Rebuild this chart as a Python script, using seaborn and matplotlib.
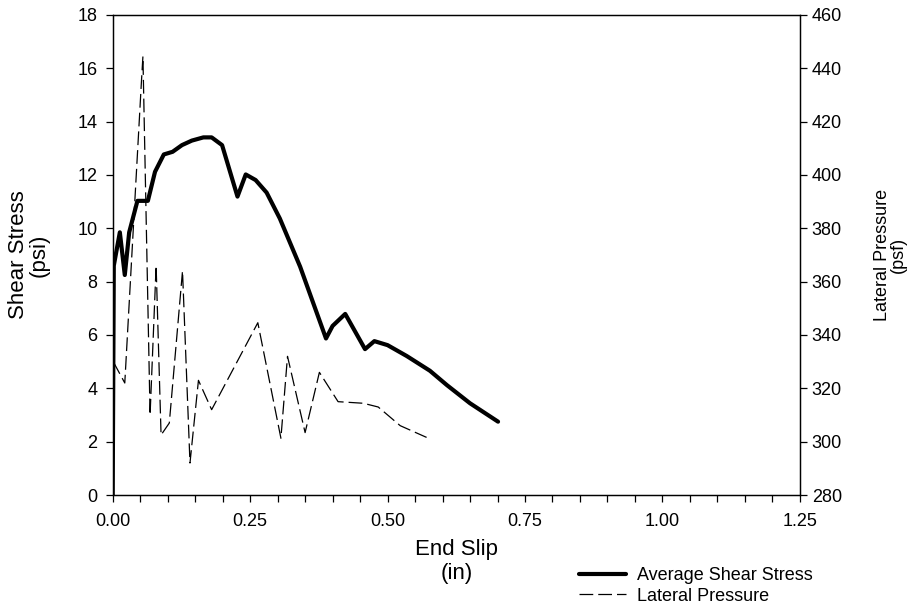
import matplotlib
matplotlib.use("Agg")
import matplotlib.pyplot as plt
import seaborn as sns
import pandas as pd
from matplotlib.ticker import MultipleLocator, FormatStrFormatter
from matplotlib.lines import Line2D

# ---- data ----
shear_x = [0.0, 0.002, 0.013, 0.022, 0.030, 0.045, 0.064, 0.077, 0.093, 0.109,
           0.126, 0.144, 0.165, 0.180, 0.199, 0.227, 0.242, 0.260, 0.280, 0.304,
           0.341, 0.388, 0.400, 0.423, 0.459, 0.476, 0.500, 0.535, 0.577, 0.608,
           0.650, 0.701]
shear_y = [0.0, 8.6, 9.85, 8.25, 9.85, 11.03, 11.03, 12.12, 12.77, 12.87,
           13.12, 13.29, 13.41, 13.41, 13.12, 11.19, 12.02, 11.81, 11.34, 10.37,
           8.56, 5.87, 6.34, 6.79, 5.47, 5.77, 5.62, 5.21, 4.66, 4.12,
           3.44, 2.75]

lat_x = [0.001, 0.022, 0.052, 0.055, 0.068, 0.079, 0.088, 0.103, 0.127, 0.1406,
         0.156, 0.180, 0.264, 0.306, 0.318, 0.350, 0.376, 0.410, 0.456, 0.483,
         0.523, 0.571]
lat_y = [330.0, 322.0, 434.0, 444.5, 310.0, 366.0, 302.5, 307.0, 364.0, 292.0,
         323.0, 312.0, 344.6, 301.3, 332.0, 303.4, 326.0, 315.0, 314.4, 313.0,
         306.0, 301.6]

series_names = ["Average Shear Stress", "Lateral Pressure"]

sns.set_style("ticks")
plt.rcParams['font.family'] = ['Liberation Sans', 'DejaVu Sans']
plt.rcParams['text.color'] = 'black'
plt.rcParams['axes.labelcolor'] = 'black'

fig = plt.figure(figsize=(9.11, 6.14), dpi=100)
ax = fig.add_axes([0.1237, 0.1938, 0.878 - 0.1237, 0.9756 - 0.1938])
ax2 = ax.twinx()

df_s = pd.DataFrame({"x": shear_x, "y": shear_y})
df_l = pd.DataFrame({"x": lat_x, "y": lat_y})

sns.lineplot(data=df_s, x="x", y="y", ax=ax, estimator=None, sort=False,
             color="black", linewidth=3.0)
sns.lineplot(data=df_l, x="x", y="y", ax=ax2, estimator=None, sort=False,
             color="black", linewidth=0.9)
ax2.lines[0].set_dashes([11, 4])

ax.set_xlim(0, 1.25)
ax.set_ylim(0, 18)
ax2.set_ylim(280, 460)

ax.xaxis.set_major_locator(MultipleLocator(0.25))
ax.xaxis.set_minor_locator(MultipleLocator(0.05))
ax.xaxis.set_major_formatter(FormatStrFormatter('%.2f'))
ax.yaxis.set_major_locator(MultipleLocator(2))
ax2.yaxis.set_major_locator(MultipleLocator(20))

for a in (ax, ax2):
    for s in a.spines.values():
        s.set_linewidth(0.9)
        s.set_color("black")
        s.set_visible(True)
    a.tick_params(axis='both', which='both', direction='out', length=5,
                  width=0.9, color='black', labelsize=13, labelcolor='black')
ax.tick_params(axis='x', pad=8)
ax.tick_params(axis='y', pad=6)

ax.set_xlabel("End Slip\n(in)", fontsize=16, linespacing=1.15)
ax.xaxis.set_label_coords(0.5, -0.092)
ax.set_ylabel("Shear Stress\n(psi)", fontsize=16, linespacing=0.95)
ax.yaxis.set_label_coords(-0.092, 0.5)
ax2.set_ylabel("Lateral Pressure\n(psf)", fontsize=13, linespacing=0.9)
ax2.yaxis.set_label_coords(1.108, 0.5)

handles = [Line2D([0], [0], color="black", linewidth=3.0),
           Line2D([0], [0], color="black", linewidth=0.9, dashes=[11, 4])]
fig.legend(handles, series_names, loc="center left",
           bbox_to_anchor=(0.636, 0.046), bbox_transform=fig.transFigure,
           frameon=False, fontsize=13, handlelength=2.6, handletextpad=0.6,
           labelspacing=0.2, borderaxespad=0, borderpad=0)

fig.savefig("out.png", dpi=100, facecolor="white")
